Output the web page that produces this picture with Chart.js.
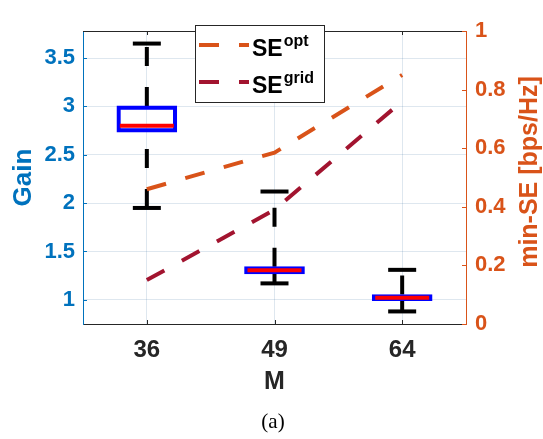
<!DOCTYPE html>
<html>
<head>
<meta charset="utf-8">
<script src="https://cdn.jsdelivr.net/npm/chart.js@4.4.0/dist/chart.umd.min.js"></script>
<style>
  html, body { margin: 0; padding: 0; background: #fff; }
</style>
</head>
<body>
<canvas id="gainChart" width="543" height="439"></canvas>
<script>
// M values on the x axis
const antennas = ['36', '49', '64'];
// box plot of the gain (left axis)
const boxQ1 = [2.735, 1.267, 0.99];
const boxQ3 = [3.005, 1.343, 1.055];
const boxMedian = [2.80, 1.305, 1.022];
const whiskerLow = [1.95, 1.17, 0.88];
const whiskerHigh = [3.65, 2.12, 1.31];
// min-SE curves (right axis)
const seOpt = [0.46, 0.585, 0.85];
const seGrid = [0.15, 0.39, 0.76];
// tick labels
const gainTicks = [1, 1.5, 2, 2.5, 3, 3.5];
const seTicks = [0, 0.2, 0.4, 0.6, 0.8, 1];

const blue = '#0072BD';
const orange = '#D95319';
const wine = '#A2142F';
const dark = '#262626';
const gridColor = 'rgba(0, 70, 130, 0.13)';

Chart.defaults.font.family = "'Liberation Sans', Arial, Helvetica, sans-serif";
Chart.defaults.font.weight = 'bold';

const pos = (i) => i + 1;

// one dataset per whisker half so the dash starts at the box (upper) or at the end (lower)
const whiskers = [];
antennas.forEach((m, i) => {
    whiskers.push({
        type: 'line', yAxisID: 'y', order: 4,
        data: [{x: pos(i), y: boxQ3[i]}, {x: pos(i), y: whiskerHigh[i]}],
        borderColor: '#000', borderWidth: 4, borderDash: [19, 21], pointRadius: 0
    });
    whiskers.push({
        type: 'line', yAxisID: 'y', order: 4,
        data: [{x: pos(i), y: whiskerLow[i]}, {x: pos(i), y: boxQ1[i]}],
        borderColor: '#000', borderWidth: 4, borderDash: [19, 21], pointRadius: 0
    });
});

const caps = antennas.map((m, i) => ({x: pos(i), y: whiskerLow[i]}))
    .concat(antennas.map((m, i) => ({x: pos(i), y: whiskerHigh[i]})));

const extras = {
    id: 'extras',
    afterDraw(chart) {
        const {ctx, chartArea: a, scales} = chart;
        ctx.save();
        // top frame line
        ctx.strokeStyle = dark;
        ctx.lineWidth = 1;
        ctx.beginPath();
        ctx.moveTo(a.left, a.top + 0.5);
        ctx.lineTo(a.right, a.top + 0.5);
        ctx.stroke();
        // inside tick marks
        antennas.forEach((m, i) => {
            const x = Math.round(scales.x.getPixelForValue(pos(i))) + 0.5;
            ctx.beginPath();
            ctx.moveTo(x, a.bottom); ctx.lineTo(x, a.bottom - 4);
            ctx.moveTo(x, a.top); ctx.lineTo(x, a.top + 4);
            ctx.stroke();
        });
        ctx.strokeStyle = blue;
        gainTicks.forEach(v => {
            const y = Math.round(scales.y.getPixelForValue(v)) + 0.5;
            ctx.beginPath(); ctx.moveTo(a.left, y); ctx.lineTo(a.left + 4, y); ctx.stroke();
        });
        ctx.strokeStyle = orange;
        seTicks.forEach(v => {
            const y = Math.round(scales.y2.getPixelForValue(v)) + 0.5;
            ctx.beginPath(); ctx.moveTo(a.right, y); ctx.lineTo(a.right - 4, y); ctx.stroke();
        });

        // legend with superscripts
        const lx = 195, ly = 25, lw = 129, lh = 77;
        ctx.fillStyle = '#fff';
        ctx.fillRect(lx, ly, lw, lh);
        ctx.strokeStyle = dark;
        ctx.lineWidth = 1;
        ctx.strokeRect(lx + 0.5, ly + 0.5, lw, lh);
        const entries = chart.data.datasets.filter(d => d.label);
        entries.forEach((d, k) => {
            const yy = 45 + k * 37;
            ctx.strokeStyle = d.borderColor;
            ctx.lineWidth = 4;
            ctx.setLineDash([20, 20]);
            ctx.beginPath(); ctx.moveTo(199, yy); ctx.lineTo(249, yy); ctx.stroke();
            ctx.setLineDash([]);
            const [base, sup] = d.label.split('^');
            ctx.fillStyle = '#000';
            ctx.textBaseline = 'alphabetic';
            ctx.textAlign = 'left';
            ctx.font = "bold 23px 'Liberation Sans', Arial, sans-serif";
            ctx.fillText(base, 252, yy + 11);
            const w = ctx.measureText(base).width;
            ctx.font = "bold 16px 'Liberation Sans', Arial, sans-serif";
            ctx.fillText(sup, 252 + w + 1, yy + 1);
        });

        // right axis title, reading bottom to top
        ctx.fillStyle = orange;
        ctx.font = "bold 25px 'Liberation Sans', Arial, sans-serif";
        ctx.textAlign = 'center';
        ctx.textBaseline = 'middle';
        ctx.translate(530, 172);
        ctx.rotate(-Math.PI / 2);
        ctx.fillText('min-SE [bps/Hz]', 0, 0);
        ctx.restore();

        // sub-caption
        ctx.save();
        ctx.fillStyle = '#000';
        ctx.font = "21px 'Liberation Serif', 'Times New Roman', serif";
        ctx.textAlign = 'center';
        ctx.textBaseline = 'middle';
        ctx.fillText('(a)', 273, 422);
        ctx.restore();
    }
};

new Chart(document.getElementById('gainChart'), {
    type: 'scatter',
    data: {
        datasets: [
            {
                type: 'line', label: 'SE^opt', yAxisID: 'y2', order: 0,
                data: antennas.map((m, i) => ({x: pos(i), y: seOpt[i]})),
                borderColor: orange, borderWidth: 4, borderDash: [20, 20], pointRadius: 0
            },
            {
                type: 'line', label: 'SE^grid', yAxisID: 'y2', order: 0,
                data: antennas.map((m, i) => ({x: pos(i), y: seGrid[i]})),
                borderColor: wine, borderWidth: 4, borderDash: [20, 20], pointRadius: 0
            },
            {
                type: 'scatter', yAxisID: 'y', order: 1,
                data: antennas.map((m, i) => ({x: pos(i), y: boxMedian[i]})),
                pointStyle: 'line', pointRadius: 27, pointBorderWidth: 4,
                pointBorderColor: '#FF0000', pointBackgroundColor: '#FF0000'
            },
            {
                type: 'scatter', yAxisID: 'y', order: 2,
                data: caps,
                pointStyle: 'line', pointRadius: 14, pointBorderWidth: 4,
                pointBorderColor: '#000', pointBackgroundColor: '#000'
            },
            {
                type: 'bar', yAxisID: 'y', order: 3,
                data: antennas.map((m, i) => ({x: pos(i), y: [boxQ1[i], boxQ3[i]]})),
                borderColor: '#0000FF', borderWidth: 3.5, borderSkipped: false,
                backgroundColor: 'rgba(0,0,0,0)', barThickness: 60, grouped: false
            },
            ...whiskers
        ]
    },
    options: {
        responsive: false,
        animation: false,
        layout: { padding: { top: 14, left: 0, right: 0, bottom: 0 } },
        plugins: { legend: { display: false }, tooltip: { enabled: false } },
        scales: {
            x: {
                type: 'linear', min: 0.5, max: 3.5, offset: false,
                afterBuildTicks: (s) => { s.ticks = antennas.map((m, i) => ({value: pos(i)})); },
                afterFit: (s) => { s.height = 115; },
                ticks: {
                    callback: (v) => antennas[v - 1],
                    color: dark, font: { size: 24, weight: 'bold' }, padding: 12
                },
                grid: { color: gridColor, drawTicks: false, offset: false },
                border: { color: dark },
                title: {
                    display: true, text: 'M', color: dark,
                    font: { size: 25, weight: 'bold' }, padding: { top: 0, bottom: 42 }
                }
            },
            y: {
                type: 'linear', position: 'left', min: 0.75, max: 3.78,
                afterBuildTicks: (s) => { s.ticks = gainTicks.map(v => ({value: v})); },
                afterFit: (s) => { s.width = 83; },
                ticks: {
                    callback: (v) => String(v),
                    color: blue, font: { size: 22, weight: 'bold' }, padding: 8
                },
                grid: { color: gridColor, drawTicks: false },
                border: { color: blue },
                title: {
                    display: true, text: 'Gain', color: blue,
                    font: { size: 26, weight: 'bold' }, padding: { top: 8, bottom: 0 }
                }
            },
            y2: {
                type: 'linear', position: 'right', min: 0, max: 1,
                afterBuildTicks: (s) => { s.ticks = seTicks.map(v => ({value: v})); },
                afterFit: (s) => { s.width = 77; },
                ticks: {
                    callback: (v) => String(v),
                    color: orange, font: { size: 22, weight: 'bold' }, padding: 9
                },
                grid: { drawOnChartArea: false, drawTicks: false },
                border: { color: orange }
            }
        }
    },
    plugins: [extras]
});
</script>
</body>
</html>
